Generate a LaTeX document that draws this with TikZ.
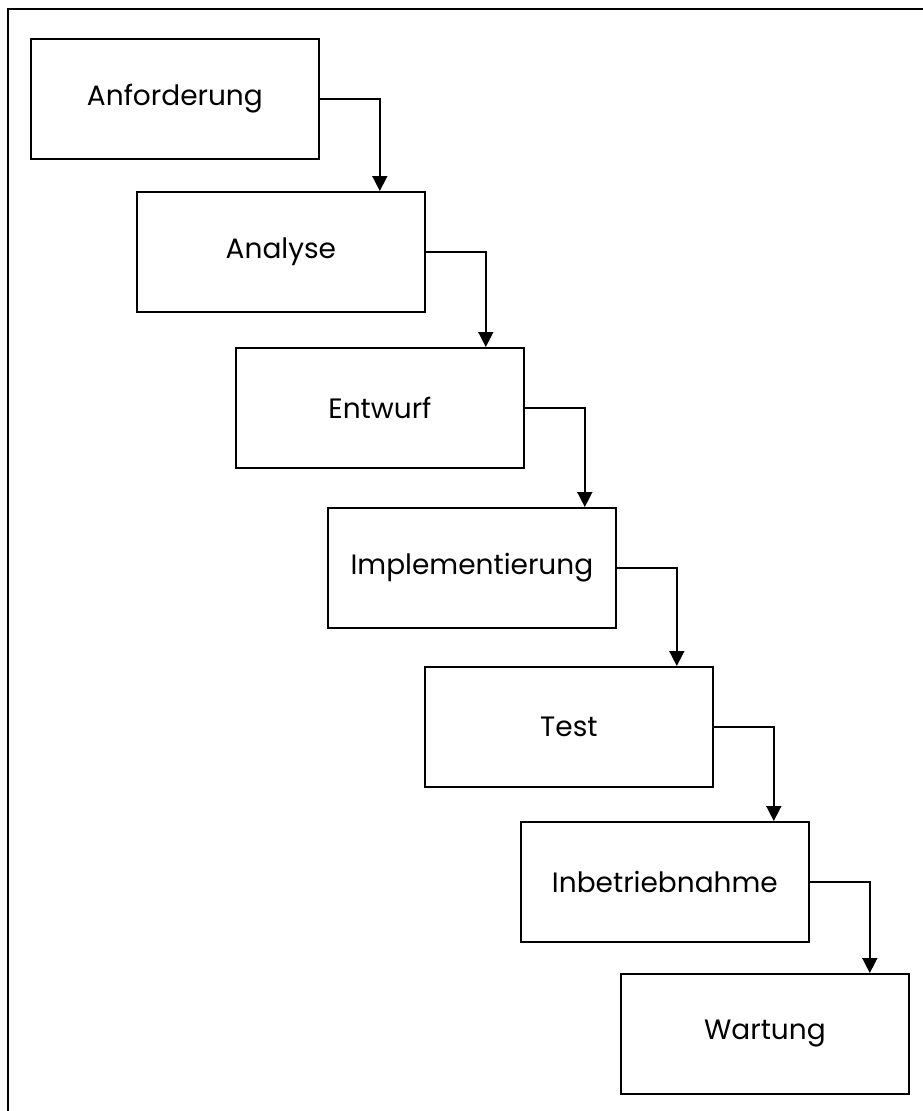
\documentclass[tikz,border=0pt]{standalone}
\usepackage{fontspec}
\setmainfont{Poppins}
\usetikzlibrary{arrows.meta}
\begin{document}
\begin{tikzpicture}[x=1pt,y=-1pt,
  phase/.style={draw=black, line width=1.8pt, rectangle, anchor=north west,
    minimum width=288pt, minimum height=120pt, inner sep=0pt,
    font=\fontsize{28}{32}\selectfont},
  flow/.style={draw=black, line width=1.6pt,
    -{Triangle[width=15pt,length=15pt]}}]
  \useasboundingbox (0,0) rectangle (923,1111);
  % outer frame, open towards the right and bottom
  \draw[line width=2.8pt] (8,1111) -- (8,9) -- (923,9);
  % phases
  \node[phase] (b1) at (30,38)  {Anforderung};
  \node[phase] (b2) at (136,191) {Analyse};
  \node[phase] (b3) at (235,347) {Entwurf};
  \node[phase] (b4) at (327,507) {Implementierung};
  \node[phase] (b5) at (424,666) {Test};
  \node[phase] (b6) at (520,821) {Inbetriebnahme};
  \node[phase] (b7) at (620,973) {Wartung};
  % step-down connectors
  \foreach \a/\b in {b1/b2,b2/b3,b3/b4,b4/b5,b5/b6,b6/b7}
    \draw[flow] (\a.east) -| ([xshift=60pt]\a.east |- \b.north);
\end{tikzpicture}
\end{document}
